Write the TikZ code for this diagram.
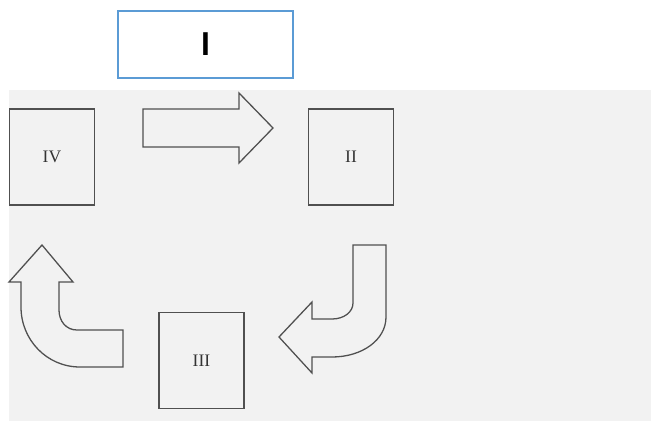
\documentclass[tikz,border=0pt]{standalone}
\usepackage{fontspec}
\setmainfont{Liberation Serif}
\newfontfamily\headfont{Carlito}
\usepackage{tikz}
\definecolor{scan}{HTML}{F2F2F2}
\definecolor{ink}{HTML}{505050}
\definecolor{frame}{HTML}{5B9BD5}
\tikzset{
  stage/.style={draw=ink, line width=1.3pt, inner sep=0pt, minimum width=2.55cm, minimum height=2.88cm, text=black!80, font=\fontsize{15pt}{17pt}\selectfont},
  titlebox/.style={draw=frame, line width=1.8pt, fill=white, inner sep=0pt, minimum width=5.25cm, minimum height=2.01cm, font=\headfont\bfseries\fontsize{30pt}{32pt}\selectfont},
  bigArrow/.style={draw=ink, line width=1.1pt, line join=miter}
}

\begin{document}
\begin{tikzpicture}[x=0.03cm, y=-0.03cm]
    \useasboundingbox (0,0) rectangle (651,421);
    \fill[white] (0,0) rectangle (651,421);
    \fill[scan] (9,90) rectangle (651,421);

    % Title
    \node[titlebox] (one) at (205.5,44.5) {I};

    % Stages
    \node[stage] (four) at (52,157) {IV};
    \node[stage] (two) at (351,157) {II};
    \node[stage] (three) at (201.5,360.5) {III};

    % IV to II
    \draw[bigArrow] (143,109) -- (239,109) -- (239,93) -- (273,128) -- (239,163) -- (239,147) -- (143,147) -- cycle;

    % II to III
    \draw[bigArrow] (353,245) -- (386,245) -- (386,317)
        .. controls (386,340) and (362,357) .. (332,357)
        -- (312,357) -- (312,373) -- (279,337) -- (312,302) -- (312,319) -- (332,319)
        .. controls (344,319) and (353,312) .. (353,303) -- cycle;

    % III to IV
    \draw[bigArrow] (42,245) -- (73,282) -- (59,282) -- (59,310)
        .. controls (59,321) and (66,330) .. (77,330)
        -- (123,330) -- (123,367) -- (80,367)
        .. controls (47,367) and (21,340) .. (21,307)
        -- (21,282) -- (9,282) -- cycle;
\end{tikzpicture}
\end{document}
